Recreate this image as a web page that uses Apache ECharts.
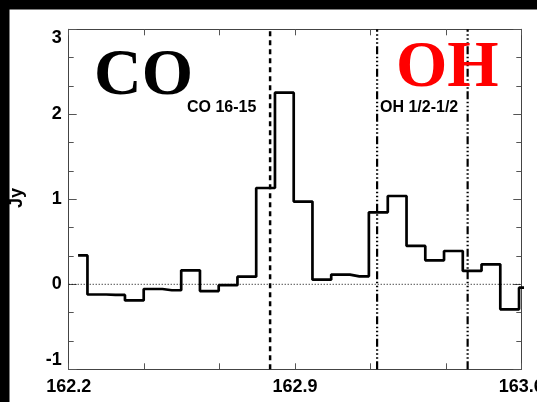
<!DOCTYPE html>
<html>
<head>
<meta charset="utf-8">
<script src="https://cdn.jsdelivr.net/npm/echarts@6/dist/echarts.min.js"></script>
<style>
  html, body { margin: 0; padding: 0; background: #fff; }
  #chart { width: 537px; height: 402px; }
</style>
</head>
<body>
<div id="chart"></div>
<script>
// Channel centre frequencies (GHz) and measured flux density (Jy)
const freq = [
  162.229, 162.287, 162.345, 162.403, 162.461, 162.519, 162.577, 162.635,
  162.693, 162.751, 162.809, 162.867, 162.925, 162.983, 163.041, 163.099,
  163.158, 163.216, 163.274, 163.332, 163.390, 163.448, 163.506, 163.564,
  163.622
];
const flux = [
  0.34, -0.12, -0.125, -0.19, -0.055, -0.07, 0.165, -0.08,
  -0.01, 0.09, 1.133, 2.255, 0.973, 0.055, 0.114, 0.094,
  0.847, 1.039, 0.451, 0.282, 0.392, 0.157, 0.235, -0.294,
  -0.04
];

// Rest frequencies of the marked transitions
const coLines = [162.823];
const ohLines = [163.154, 163.434];

// Axis ranges and ticks
const xMin = 162.2, xMax = 163.6;
const yMin = -1, yMax = 3;
const xTickValues = [162.2, 162.4333, 162.6667, 162.9, 163.1333, 163.3667, 163.6];
const xLabelValues = [162.2, 162.9, 163.6];

const spectrum = freq.map((f, i) => [f, flux[i]]);

const vline = (x) => [[x, yMin], [x, yMax]];

const tickStyle = { lineStyle: { color: '#555', width: 1 } };
const frameLine = { show: true, onZero: false, lineStyle: { color: '#444', width: 1 } };

const series = [
  {
    name: 'zero',
    type: 'line',
    data: [[xMin, 0], [xMax, 0]],
    showSymbol: false,
    silent: true,
    lineStyle: { color: '#000', width: 1, type: [1, 2] },
    z: 1
  }
];
coLines.forEach((x) => series.push({
  type: 'line',
  data: vline(x),
  showSymbol: false,
  silent: true,
  lineStyle: { color: '#000', width: 2.5, type: [5, 4] },
  z: 2
}));
ohLines.forEach((x) => series.push({
  type: 'line',
  data: vline(x),
  showSymbol: false,
  silent: true,
  lineStyle: { color: '#000', width: 2.2, type: [8, 2.5, 1.5, 2.5, 1.5, 2.5, 1.5, 2.5] },
  z: 2
}));
series.push({
  name: 'spectrum',
  type: 'line',
  step: 'middle',
  data: spectrum,
  showSymbol: false,
  clip: true,
  lineStyle: { color: '#000', width: 2.7 },
  z: 3
});

const chart = echarts.init(document.getElementById('chart'), null, { renderer: 'canvas' });
chart.setOption({
  backgroundColor: '#fff',
  animation: false,
  grid: { left: 68.7, right: 15.7, top: 29.3, bottom: 32.7, outerBoundsMode: 'none' },
  xAxis: [
    {
      type: 'value', position: 'bottom', min: xMin, max: xMax,
      axisLine: frameLine,
      axisTick: { show: true, inside: true, length: 6, customValues: xTickValues, ...tickStyle },
      axisLabel: {
        show: true, customValues: xLabelValues, margin: 9,
        fontFamily: 'Liberation Sans', fontWeight: 'bold', fontSize: 18, color: '#000',
        showMinLabel: true, showMaxLabel: true,
        formatter: (v) => v.toFixed(1)
      },
      splitLine: { show: false }
    },
    {
      type: 'value', position: 'top', min: xMin, max: xMax,
      axisLine: frameLine,
      axisTick: { show: true, inside: true, length: 6, customValues: xTickValues, ...tickStyle },
      axisLabel: { show: false },
      splitLine: { show: false }
    }
  ],
  yAxis: [
    {
      type: 'value', position: 'left', min: yMin, max: yMax, interval: 1,
      axisLine: frameLine,
      axisTick: { show: true, inside: true, length: 8, ...tickStyle },
      minorTick: { show: true, splitNumber: 3, length: 5, ...tickStyle },
      axisLabel: {
        margin: 7,
        fontFamily: 'Liberation Sans', fontWeight: 'bold', fontSize: 18, color: '#000',
        verticalAlignMinLabel: 'bottom', verticalAlignMaxLabel: 'top'
      },
      splitLine: { show: false }
    },
    {
      type: 'value', position: 'right', min: yMin, max: yMax, interval: 1,
      axisLine: frameLine,
      axisTick: { show: true, inside: true, length: 8, ...tickStyle },
      minorTick: { show: true, splitNumber: 3, length: 5, ...tickStyle },
      axisLabel: { show: false },
      splitLine: { show: false }
    }
  ],
  graphic: [
    {
      type: 'text', x: 17, y: 198, rotation: Math.PI / 2, z: 10,
      style: {
        text: 'Jy', fill: '#000', align: 'center', verticalAlign: 'middle',
        font: 'bold 18px "Liberation Sans"'
      }
    },
    {
      type: 'text', x: 94, y: 77, z: 10,
      style: {
        text: 'CO', fill: '#000', align: 'left', verticalAlign: 'middle',
        font: 'bold 66px "Liberation Serif"'
      }
    },
    {
      type: 'text', x: 396, y: 69, z: 10,
      style: {
        text: 'OH', fill: '#ff0000', align: 'left', verticalAlign: 'middle',
        font: 'bold 66px "Liberation Serif"'
      }
    },
    {
      type: 'text', x: 187, y: 108, z: 10,
      style: {
        text: 'CO 16-15', fill: '#000', align: 'left', verticalAlign: 'middle',
        font: 'bold 16px "Liberation Sans"'
      }
    },
    {
      type: 'text', x: 380, y: 108, z: 10,
      style: {
        text: 'OH 1/2-1/2', fill: '#000', align: 'left', verticalAlign: 'middle',
        font: 'bold 16px "Liberation Sans"'
      }
    },
    {
      type: 'rect', z: 20, shape: { x: 0, y: 0, width: 537, height: 9.5 },
      style: { fill: '#000' }
    },
    {
      type: 'rect', z: 20, shape: { x: 0, y: 0, width: 9.5, height: 402 },
      style: { fill: '#000' }
    }
  ],
  series: series
});
</script>
</body>
</html>
